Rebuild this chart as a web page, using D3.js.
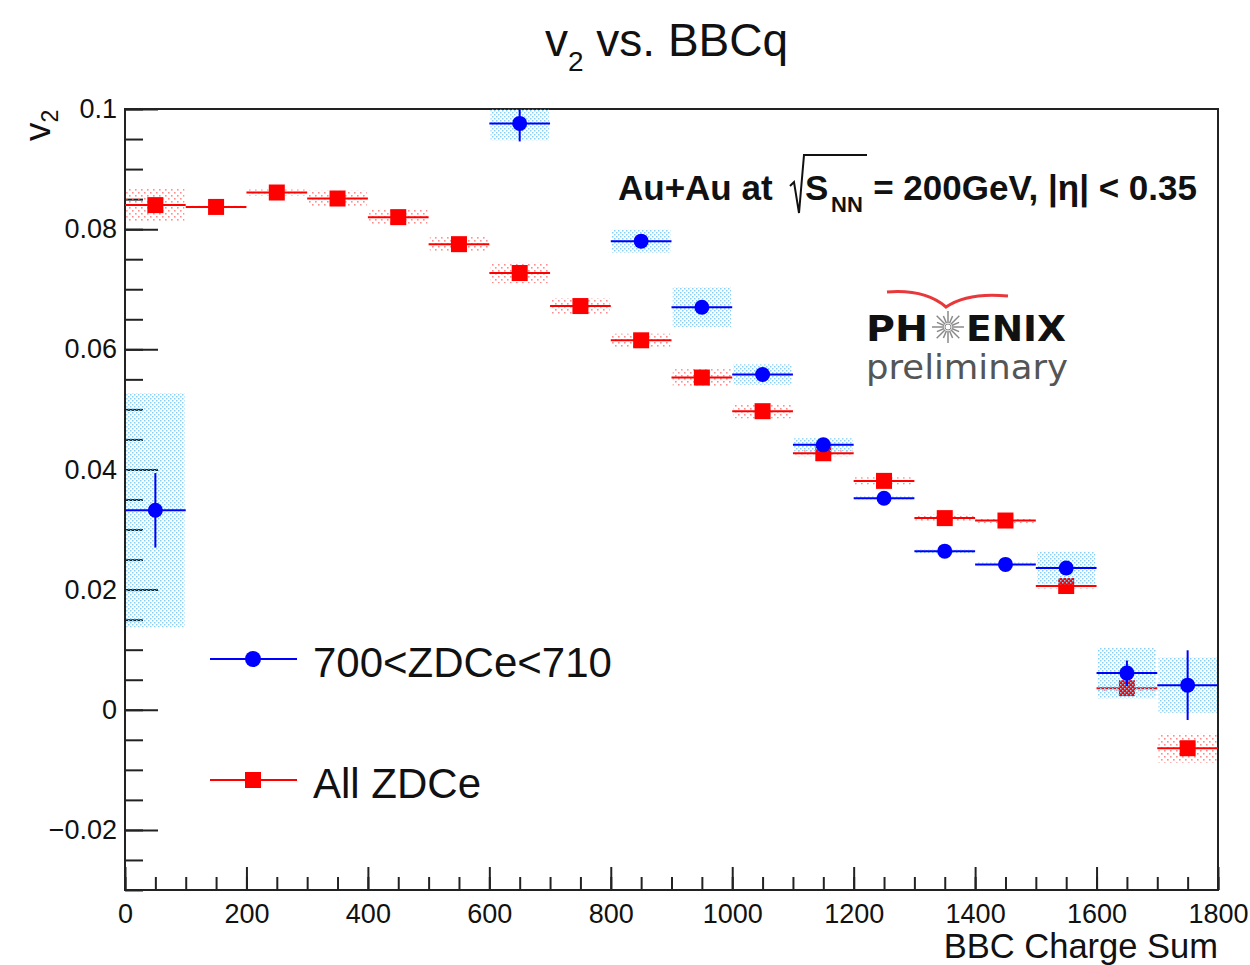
<!DOCTYPE html>
<html>
<head>
<meta charset="utf-8" />
<title>v2 vs. BBCq</title>
<script src="https://d3js.org/d3.v7.min.js"></script>
<style>
body { margin: 0; background: #fff; }
text { font-family: "Liberation Sans", Arial, Helvetica, sans-serif; fill: #111; }
</style>
</head>
<body>
<script>
// All ZDCe (red squares), BBC charge bins of width 100
var bins = [50, 150, 250, 350, 450, 550, 650, 750, 850, 950, 1050, 1150, 1250, 1350, 1450, 1550, 1650, 1750];
var allV2 = [0.0840, 0.0837, 0.0861, 0.0851, 0.0820, 0.0775, 0.0727, 0.0672, 0.0615, 0.0553, 0.0497, 0.0427, 0.0381, 0.0319, 0.0315, 0.0206, 0.0036, -0.0064];
var allStat = [0.0006, 0.0006, 0.0006, 0.0006, 0.0006, 0.0007, 0.0007, 0.0007, 0.0008, 0.0008, 0.0008, 0.0009, 0.0009, 0.0010, 0.0010, 0.0011, 0.0012, 0.0012];
var allSys = [0.0028, 0.0002, 0.0005, 0.0013, 0.0012, 0.0013, 0.0017, 0.0013, 0.0011, 0.0014, 0.0012, 0.0005, 0.0006, 0.0006, 0.0004, 0.0004, 0.0005, 0.0024];

// 700<ZDCe<710 (blue circles)
var zdcBins = [50, 650, 850, 950, 1050, 1150, 1250, 1350, 1450, 1550, 1650, 1750];
var zdcV2 = [0.0332, 0.0976, 0.0780, 0.0670, 0.0558, 0.0441, 0.0352, 0.0264, 0.0242, 0.0236, 0.0061, 0.0041];
var zdcStat = [0.0062, 0.0030, 0.0008, 0.0008, 0.0008, 0.0009, 0.0009, 0.0010, 0.0010, 0.0010, 0.0021, 0.0058];
var zdcSys = [0.0195, 0.0028, 0.0019, 0.0033, 0.0017, 0.0011, 0.0003, 0.0003, 0.0003, 0.0027, 0.0042, 0.0046];

var xTicks = [0, 200, 400, 600, 800, 1000, 1200, 1400, 1600, 1800];
var yTicks = [-0.02, 0, 0.02, 0.04, 0.06, 0.08, 0.1];
var yTickLabels = ["\u22120.02", "0", "0.02", "0.04", "0.06", "0.08", "0.1"];
var legendLabels = ["700<ZDCe<710", "All ZDCe"];

var binHalf = 50, sysHalf = 48;

var svg = d3.select("body").append("svg")
    .attr("width", 1250)
    .attr("height", 965);

var x = d3.scaleLinear().domain([0, 1800]).range([125, 1218]);
var y = d3.scaleLinear().domain([-0.03, 0.1]).range([890, 109]);

var defs = svg.append("defs");
defs.append("clipPath").attr("id", "plotclip")
    .append("rect")
    .attr("x", 125).attr("y", 109)
    .attr("width", 1093).attr("height", 781);

function dotPattern(id, color, step, dot) {
    var p = defs.append("pattern")
        .attr("id", id)
        .attr("patternUnits", "userSpaceOnUse")
        .attr("width", step).attr("height", step);
    p.append("rect").attr("x", 0).attr("y", 0).attr("width", dot).attr("height", dot).attr("fill", color);
    p.append("rect").attr("x", step / 2).attr("y", step / 2).attr("width", dot).attr("height", dot).attr("fill", color);
}
dotPattern("bluedots", "#86d0f6", 4, 1.5);
dotPattern("reddots", "#ff8c8c", 6, 1.6);

// axes: minor ticks first, then major with labels
function styleAxis(g) {
    g.select(".domain").remove();
    g.selectAll("line").attr("stroke", "#222").attr("stroke-width", 2);
    g.selectAll("text").attr("font-size", 27).attr("fill", "#222")
        .style("font-family", "'Liberation Sans', Arial, Helvetica, sans-serif");
}

var xMinor = d3.range(0, 1801, 50);
var yMinor = d3.range(-0.03, 0.1001, 0.005);

svg.append("g").attr("transform", "translate(0,890)")
    .call(d3.axisBottom(x).tickValues(xMinor).tickSize(-13).tickSizeOuter(0).tickFormat(""))
    .call(styleAxis);
svg.append("g").attr("transform", "translate(0,890)")
    .call(d3.axisBottom(x).tickValues(xTicks).tickSize(-23).tickSizeOuter(0).tickPadding(14).tickFormat(d3.format("d")))
    .call(styleAxis);
svg.append("g").attr("transform", "translate(125,0)")
    .call(d3.axisLeft(y).tickValues(yMinor).tickSize(-18).tickSizeOuter(0).tickFormat(""))
    .call(styleAxis);
svg.append("g").attr("transform", "translate(125,0)")
    .call(d3.axisLeft(y).tickValues(yTicks).tickSize(-33).tickSizeOuter(0).tickPadding(8)
        .tickFormat(function(d, i) { return yTickLabels[i]; }))
    .call(styleAxis);

// frame
svg.append("rect")
    .attr("x", 125).attr("y", 109)
    .attr("width", 1093).attr("height", 781)
    .attr("fill", "none").attr("stroke", "#222").attr("stroke-width", 2);

// data
var plot = svg.append("g").attr("clip-path", "url(#plotclip)");

function drawSeries(xs, vals, stat, sys, color, pattern, marker) {
    var data = xs.map(function(d, i) { return { x: d, v: vals[i], e: stat[i], s: sys[i] }; });
    var g = plot.append("g");
    g.selectAll("rect.sys").data(data).enter().append("rect")
        .attr("class", "sys")
        .attr("x", function(d) { return x(d.x - sysHalf); })
        .attr("y", function(d) { return y(d.v + d.s); })
        .attr("width", function(d) { return x(d.x + sysHalf) - x(d.x - sysHalf); })
        .attr("height", function(d) { return y(d.v - d.s) - y(d.v + d.s); })
        .attr("fill", "url(#" + pattern + ")");
    g.selectAll("line.xerr").data(data).enter().append("line")
        .attr("x1", function(d) { return x(d.x - binHalf); })
        .attr("x2", function(d) { return x(d.x + binHalf); })
        .attr("y1", function(d) { return y(d.v); })
        .attr("y2", function(d) { return y(d.v); })
        .attr("stroke", color).attr("stroke-width", 2);
    g.selectAll("line.yerr").data(data).enter().append("line")
        .attr("x1", function(d) { return x(d.x); })
        .attr("x2", function(d) { return x(d.x); })
        .attr("y1", function(d) { return y(d.v + d.e); })
        .attr("y2", function(d) { return y(d.v - d.e); })
        .attr("stroke", color).attr("stroke-width", 2);
    if (marker == "square") {
        g.selectAll("rect.mk").data(data).enter().append("rect")
            .attr("x", function(d) { return x(d.x) - 8; })
            .attr("y", function(d) { return y(d.v) - 8; })
            .attr("width", 16).attr("height", 16)
            .attr("fill", color);
    } else {
        g.selectAll("circle.mk").data(data).enter().append("circle")
            .attr("cx", function(d) { return x(d.x); })
            .attr("cy", function(d) { return y(d.v); })
            .attr("r", 7.5)
            .attr("fill", color);
    }
}

drawSeries(bins, allV2, allStat, allSys, "#ff0000", "reddots", "square");
drawSeries(zdcBins, zdcV2, zdcStat, zdcSys, "#0000ff", "bluedots", "circle");

// title
var title = svg.append("text").attr("x", 545).attr("y", 56).attr("font-size", 46);
title.append("tspan").text("v");
title.append("tspan").attr("font-size", 28).attr("dy", 15).text("2");
title.append("tspan").attr("dy", -15).text(" vs. BBCq");

// axis titles
svg.append("text")
    .attr("x", 1218).attr("y", 958)
    .attr("text-anchor", "end")
    .attr("font-size", 34.5)
    .text("BBC Charge Sum");

var ytitle = svg.append("text")
    .attr("transform", "translate(50,141) rotate(-90)")
    .attr("font-size", 37);
ytitle.append("tspan").text("v");
ytitle.append("tspan").attr("font-size", 23).attr("dy", 8).text("2");

// collision annotation
var annY = 200;
var ann = svg.append("g");
ann.append("text").attr("x", 618).attr("y", annY).attr("font-size", 35).attr("font-weight", "bold").text("Au+Au at");
ann.append("path")
    .attr("d", "M790,186 L794,182 L799,213 L804,155 L867,155")
    .attr("fill", "none").attr("stroke", "#111").attr("stroke-width", 2);
ann.append("text").attr("x", 805).attr("y", annY).attr("font-size", 35).attr("font-weight", "bold").text("S");
ann.append("text").attr("x", 831).attr("y", annY + 12).attr("font-size", 22).attr("font-weight", "bold").text("NN");
ann.append("text").attr("x", 1197).attr("y", annY).attr("text-anchor", "end")
    .attr("font-size", 35).attr("font-weight", "bold").text("= 200GeV, |\u03b7| < 0.35");

// PHENIX preliminary logo
var logo = svg.append("g");
logo.append("path")
    .attr("d", "M887,292 Q925,289 946,307 Q968,292 1008,296")
    .attr("fill", "none").attr("stroke", "#e8383b").attr("stroke-width", 3);
logo.append("text").attr("x", 866).attr("y", 341).attr("font-size", 35).attr("font-weight", "bold")
    .style("font-family", "'DejaVu Sans', sans-serif")
    .attr("textLength", 62).attr("lengthAdjust", "spacingAndGlyphs").text("PH");
var star = logo.append("g").attr("transform", "translate(948,327)");
star.selectAll("line").data(d3.range(16)).enter().append("line")
    .attr("x1", function(d) { return 4 * Math.cos(d * Math.PI / 8); })
    .attr("y1", function(d) { return 4 * Math.sin(d * Math.PI / 8); })
    .attr("x2", function(d) { return (d % 2 ? 12 : 16) * Math.cos(d * Math.PI / 8); })
    .attr("y2", function(d) { return (d % 2 ? 12 : 16) * Math.sin(d * Math.PI / 8); })
    .attr("stroke", "#8a8a8a").attr("stroke-width", 1.5);
star.append("circle").attr("r", 3).attr("fill", "none").attr("stroke", "#8a8a8a").attr("stroke-width", 1);
logo.append("text").attr("x", 966).attr("y", 341).attr("font-size", 35).attr("font-weight", "bold")
    .style("font-family", "'DejaVu Sans', sans-serif")
    .attr("textLength", 100).attr("lengthAdjust", "spacingAndGlyphs").text("ENIX");
logo.append("text").attr("x", 866).attr("y", 379).attr("font-size", 33)
    .style("font-family", "'DejaVu Sans', sans-serif").style("fill", "#555")
    .attr("textLength", 202).attr("lengthAdjust", "spacingAndGlyphs").text("preliminary");

// legend
var legend = svg.append("g");
var legendRows = [
    { y: 659, color: "#0000ff", marker: "circle", label: legendLabels[0] },
    { y: 780, color: "#ff0000", marker: "square", label: legendLabels[1] }
];
legendRows.forEach(function(r) {
    legend.append("line").attr("x1", 210).attr("x2", 297).attr("y1", r.y).attr("y2", r.y)
        .attr("stroke", r.color).attr("stroke-width", 2);
    if (r.marker == "circle") {
        legend.append("circle").attr("cx", 253).attr("cy", r.y).attr("r", 8).attr("fill", r.color);
    } else {
        legend.append("rect").attr("x", 245).attr("y", r.y - 8).attr("width", 16).attr("height", 16).attr("fill", r.color);
    }
    legend.append("text").attr("x", 313).attr("y", r.y + 18).attr("font-size", 42).text(r.label);
});
</script>
</body>
</html>
